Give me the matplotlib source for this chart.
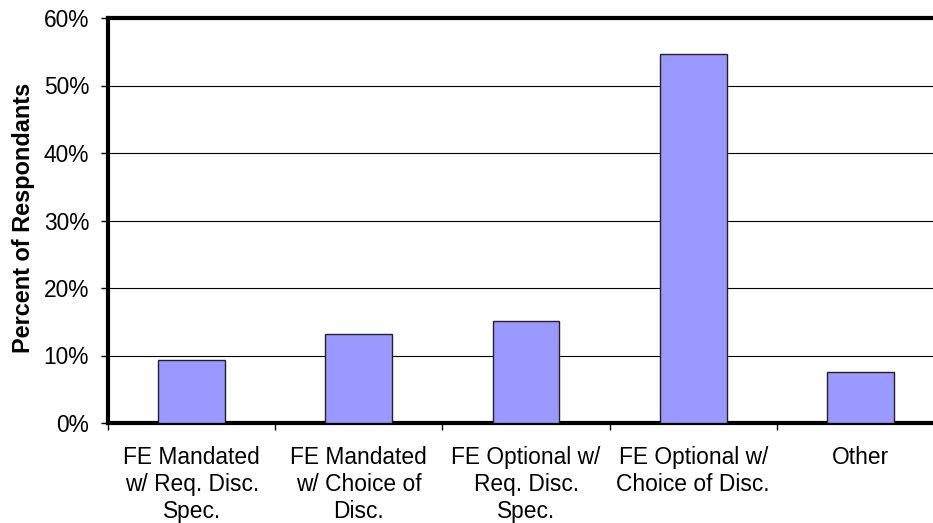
import matplotlib
matplotlib.use("Agg")
import matplotlib.pyplot as plt
import numpy as np

categories = ["FE Mandated\nw/ Req. Disc.\nSpec.",
              "FE Mandated\nw/ Choice of\nDisc.",
              "FE Optional w/\nReq. Disc.\nSpec.",
              "FE Optional w/\nChoice of Disc.",
              "Other"]
values = [9.4, 13.2, 15.1, 54.7, 7.5]
yticks = [0, 10, 20, 30, 40, 50, 60]

plt.rcParams['font.family'] = ['Liberation Sans', 'DejaVu Sans']
FS = 16.4

fig = plt.figure(figsize=(9.33, 5.23), dpi=100)
W, H = 933, 523
x0, x1, y0, y1 = 108, 944, 423, 18
ax = fig.add_axes([x0 / W, 1 - y0 / H, (x1 - x0) / W, (y0 - y1) / H])

x = np.arange(len(categories))
ax.set_axisbelow(True)
ax.yaxis.grid(True, color='black', linewidth=0.8)
ax.bar(x, values, width=0.4, color='#9999FF', edgecolor='#222222', linewidth=1.0, zorder=3)

ax.set_xlim(-0.5, len(categories) - 0.5)
ax.set_ylim(0, 60)
ax.set_yticks(yticks)
ax.set_yticklabels([f"{v}%" for v in yticks], fontsize=FS)
ax.set_xticks(np.arange(len(categories) + 1) - 0.5)
ax.set_xticklabels([])
ax.set_xticks(x, minor=True)
ax.set_xticklabels(categories, minor=True, fontsize=FS, linespacing=1.22)
ax.tick_params(axis='x', which='minor', length=0, pad=16.5)
ax.tick_params(axis='x', which='major', length=5, width=1, direction='out')
ax.tick_params(axis='y', length=5, width=1, direction='out', pad=8.6)

for s in ['left', 'bottom', 'top']:
    ax.spines[s].set_linewidth(3)
    ax.spines[s].set_color('black')
ax.spines['right'].set_visible(False)

ax.set_ylabel("Percent of Respondants", fontsize=16.9, fontweight='bold')
ax.yaxis.set_label_coords(-0.0876, 0.507)

fig.savefig("out.png", dpi=100)
